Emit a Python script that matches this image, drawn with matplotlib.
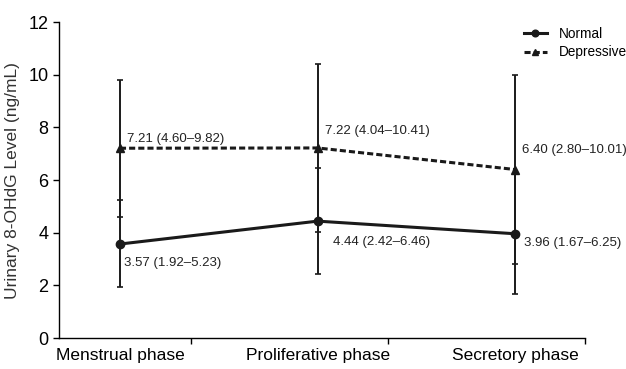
import numpy as np
import matplotlib
matplotlib.use("Agg")
import matplotlib.pyplot as plt

plt.rcParams['font.family'] = ['Liberation Sans', 'DejaVu Sans']

phases = ['Menstrual phase', 'Proliferative phase', 'Secretory phase']
normal_mean = [3.57, 4.44, 3.96]
normal_low = [1.92, 2.42, 1.67]
normal_high = [5.23, 6.46, 6.25]
depr_mean = [7.21, 7.22, 6.40]
depr_low = [4.60, 4.04, 2.80]
depr_high = [9.82, 10.41, 10.01]

x = np.arange(len(phases))

fig = plt.figure(figsize=(6.26, 3.69), dpi=100)
ax = fig.add_axes([0.094, 0.084, 0.841, 0.856])

def yerr(mean, low, high):
    m = np.array(mean)
    return [m - np.array(low), np.array(high) - m]

# error bars
ax.errorbar(x, depr_mean, yerr=yerr(depr_mean, depr_low, depr_high), fmt='none',
            ecolor='#1a1a1a', elinewidth=1.4, capsize=2.5, capthick=1.2, zorder=2)
ax.errorbar(x, normal_mean, yerr=yerr(normal_mean, normal_low, normal_high), fmt='none',
            ecolor='#1a1a1a', elinewidth=1.4, capsize=2.5, capthick=1.2, zorder=2)

ax.plot(x, normal_mean, '-', color='#1a1a1a', lw=2.2, marker='o', ms=6, label='Normal', zorder=3)
ax.plot(x, depr_mean, '--', color='#1a1a1a', lw=2.2, marker='^', ms=6, dashes=(2.0, 1.0),
        label='Depressive', zorder=3)

# value labels (offsets in points)
depr_off = [(5, 7), (5, 12), (5, 14)]
norm_off = [(3, -14), (11, -15), (6, -7)]
for i in range(3):
    ax.annotate(f'{depr_mean[i]:.2f} ({depr_low[i]:.2f}\u2013{depr_high[i]:.2f})',
                (x[i], depr_mean[i]), xytext=depr_off[i],
                textcoords='offset points', fontsize=9.5, color='#222222', va='center')
    ax.annotate(f'{normal_mean[i]:.2f} ({normal_low[i]:.2f}\u2013{normal_high[i]:.2f})',
                (x[i], normal_mean[i]), xytext=norm_off[i],
                textcoords='offset points', fontsize=9.5, color='#222222', va='center')

ax.set_xlim(-0.309, 2.354)
ax.set_ylim(0, 12)
ax.set_yticks([0, 2, 4, 6, 8, 10, 12])
ax.set_xticks(x)
ax.set_xticklabels(phases, fontsize=12.5)
ax.tick_params(axis='x', length=0, pad=7)
ax.set_xticks([0.36, 1.357, 2.354], minor=True)
ax.tick_params(axis='x', which='minor', length=4, width=1)
ax.tick_params(axis='y', labelsize=13, length=4, width=1)
ax.set_ylabel('Urinary 8-OHdG Level (ng/mL)', fontsize=12.5, labelpad=6, color='#333333')

for s in ['top', 'right']:
    ax.spines[s].set_visible(False)
for s in ['left', 'bottom']:
    ax.spines[s].set_linewidth(1)

ax.legend(loc='upper left', bbox_to_anchor=(0.873, 1.003), frameon=False, fontsize=9.8,
          handlelength=1.7, handletextpad=0.9, labelspacing=0.35, borderaxespad=0,
          markerscale=0.8)

fig.savefig('out.png', dpi=100)
